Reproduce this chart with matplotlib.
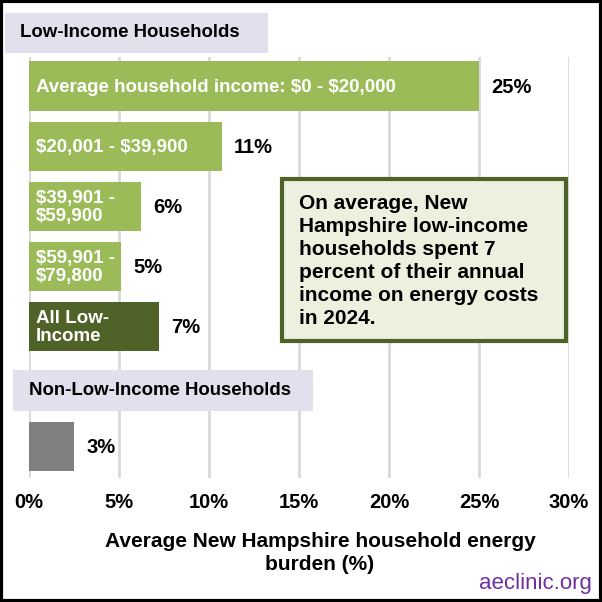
import matplotlib
matplotlib.use("Agg")
import matplotlib.pyplot as plt
from matplotlib.patches import Rectangle

plt.rcParams['font.family'] = ['Liberation Sans', 'DejaVu Sans']

# ---- data ----
bar_labels = ["Average household income: $0 - $20,000", "$20,001 - $39,900",
              "$39,901 -\n$59,900", "$59,901 -\n$79,800", "All Low-\nIncome", ""]
values = [25.0, 10.7, 6.2, 5.1, 7.2, 2.5]
value_labels = ["25%", "11%", "6%", "5%", "7%", "3%"]
bar_colors = ["#9BBB59", "#9BBB59", "#9BBB59", "#9BBB59", "#4F6228", "#808080"]
row_slots = [0, 1, 2, 3, 4, 6]
x_ticks = [0, 5, 10, 15, 20, 25, 30]
x_ticklabels = ["0%", "5%", "10%", "15%", "20%", "25%", "30%"]
group_titles = ["Low-Income Households", "Non-Low-Income Households"]
note = ("On average, New\nHampshire low-income\nhouseholds spent 7\n"
        "percent of their annual\nincome on energy costs\nin 2024.")
xlabel = "Average New Hampshire household energy\nburden (%)"

W = H = 602
fig = plt.figure(figsize=(6.02, 6.02), dpi=100)
ax = fig.add_axes([29 / W, 1 - 478 / H, (569 - 29) / W, (478 - 57) / H])

ax.set_xlim(0, 30)
ax.set_ylim(6.53, -0.483)

ax.barh(row_slots, values, height=0.817, color=bar_colors, zorder=2)

for y, v, lab, vl in zip(row_slots, values, bar_labels, value_labels):
    if lab:
        ax.text(0.4, y + 0.02, lab, color="white", fontsize=13.5, fontweight="bold",
                va="center", ha="left", linespacing=1.1, zorder=3,
                parse_math=False)
    ax.text(v + 0.7, y + 0.03, vl, color="black", fontsize=14.5, fontweight="bold",
            va="center", ha="left", zorder=3, parse_math=False)

ax.set_xticks(x_ticks)
ax.set_xticklabels(x_ticklabels, fontsize=14.5, fontweight="bold")
ax.set_yticks([])
ax.tick_params(axis="x", length=0, pad=11)
for s in ax.spines.values():
    s.set_visible(False)
ax.grid(axis="x", color="#D9D9D9", linewidth=2, zorder=0)
ax.set_axisbelow(True)

# group header boxes
hdrs = [(-1.33, -1.217, 14.61, 0.667, -0.5), (-0.89, 4.73, 16.67, 0.69, 0.0)]
for (x0, y0, w, h, tx), title in zip(hdrs, group_titles):
    ax.add_patch(Rectangle((x0, y0), w, h, facecolor="#E4DFEC", edgecolor="none",
                           clip_on=False, zorder=4))
    ax.text(tx, y0 + h / 2, title, fontsize=13.4, fontweight="bold", va="center",
            ha="left", zorder=5, clip_on=False)

# note box
ax.add_patch(Rectangle((14.06, 1.55), 15.77, 2.70, facecolor="#EBF1DE",
                       edgecolor="#4F6228", linewidth=3, zorder=4))
ax.text(15.0, 1.55 + 2.70 / 2 + 0.02, note, fontsize=15, fontweight="bold",
        va="center", ha="left", linespacing=1.27, zorder=5)

fig.text(320 / W, 1 - 553 / H, xlabel, fontsize=15, fontweight="bold",
         ha="center", va="center", linespacing=1.3, parse_math=False)
fig.text(592 / W, 1 - 583 / H, "aeclinic.org", fontsize=16, color="#7030A0",
         ha="right", va="center", fontweight="medium")

# outer frame
fig.add_artist(Rectangle((0.002, 0.002), 0.996, 0.996, transform=fig.transFigure,
                         fill=False, edgecolor="black", linewidth=3))

fig.savefig("out.png", dpi=100)
